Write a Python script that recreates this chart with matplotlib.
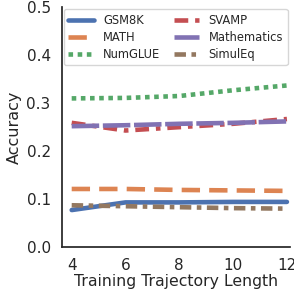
import numpy as np
import matplotlib.pyplot as plt
import seaborn as sns

# data
lengths = [4, 6, 8, 10, 12]
gsm8k = [0.077, 0.093, 0.093, 0.094, 0.094]
math_acc = [0.121, 0.121, 0.119, 0.118, 0.117]
numglue = [0.310, 0.311, 0.315, 0.327, 0.337]
svamp = [0.259, 0.243, 0.250, 0.257, 0.267]
mathematics = [0.252, 0.254, 0.257, 0.259, 0.262]
simuleq = [0.087, 0.085, 0.083, 0.081, 0.080]

sns.set_theme(style="white")
pal = sns.color_palette("deep")

fig, ax = plt.subplots(figsize=(2.94, 2.94), dpi=100)
lw = 3.3
ax.plot(lengths, gsm8k, color=pal[0], lw=lw, ls="-", label="GSM8K")
ax.plot(lengths, math_acc, color=pal[1], lw=lw, ls=(0, (4, 2)), label="MATH")
ax.plot(lengths, numglue, color=pal[2], lw=lw, ls=(0, (1, 1)), label="NumGLUE")
ax.plot(lengths, svamp, color=pal[3], lw=lw, ls=(0, (3, 1.5, 1, 1.5)), label="SVAMP")
ax.plot(lengths, mathematics, color=pal[4], lw=lw, ls=(0, (6, 0.8)), label="Mathematics")
ax.plot(lengths, simuleq, color=pal[5], lw=lw, ls=(0, (2.5, 1.2, 1, 1.2)), label="SimulEq")

ax.set_ylim(0, 0.5)
ax.set_xlim(3.63, 12.11)
ax.set_xticks([4, 6, 8, 10, 12])
ax.set_yticks([0.0, 0.1, 0.2, 0.3, 0.4, 0.5])
ax.tick_params(labelsize=11, pad=2)
ax.set_xlabel("Training Trajectory Length", fontsize=11.3, labelpad=1)
ax.set_ylabel("Accuracy", fontsize=11.5, labelpad=3)
ax.legend(ncol=2, loc="upper center", fontsize=8.3, handlelength=2.2,
          columnspacing=1.2, borderaxespad=0.15, handletextpad=0.8,
          labelspacing=0.35)
sns.despine()
fig.subplots_adjust(left=0.21, right=0.986, top=0.975, bottom=0.16)
fig.savefig("out.png", dpi=100)
